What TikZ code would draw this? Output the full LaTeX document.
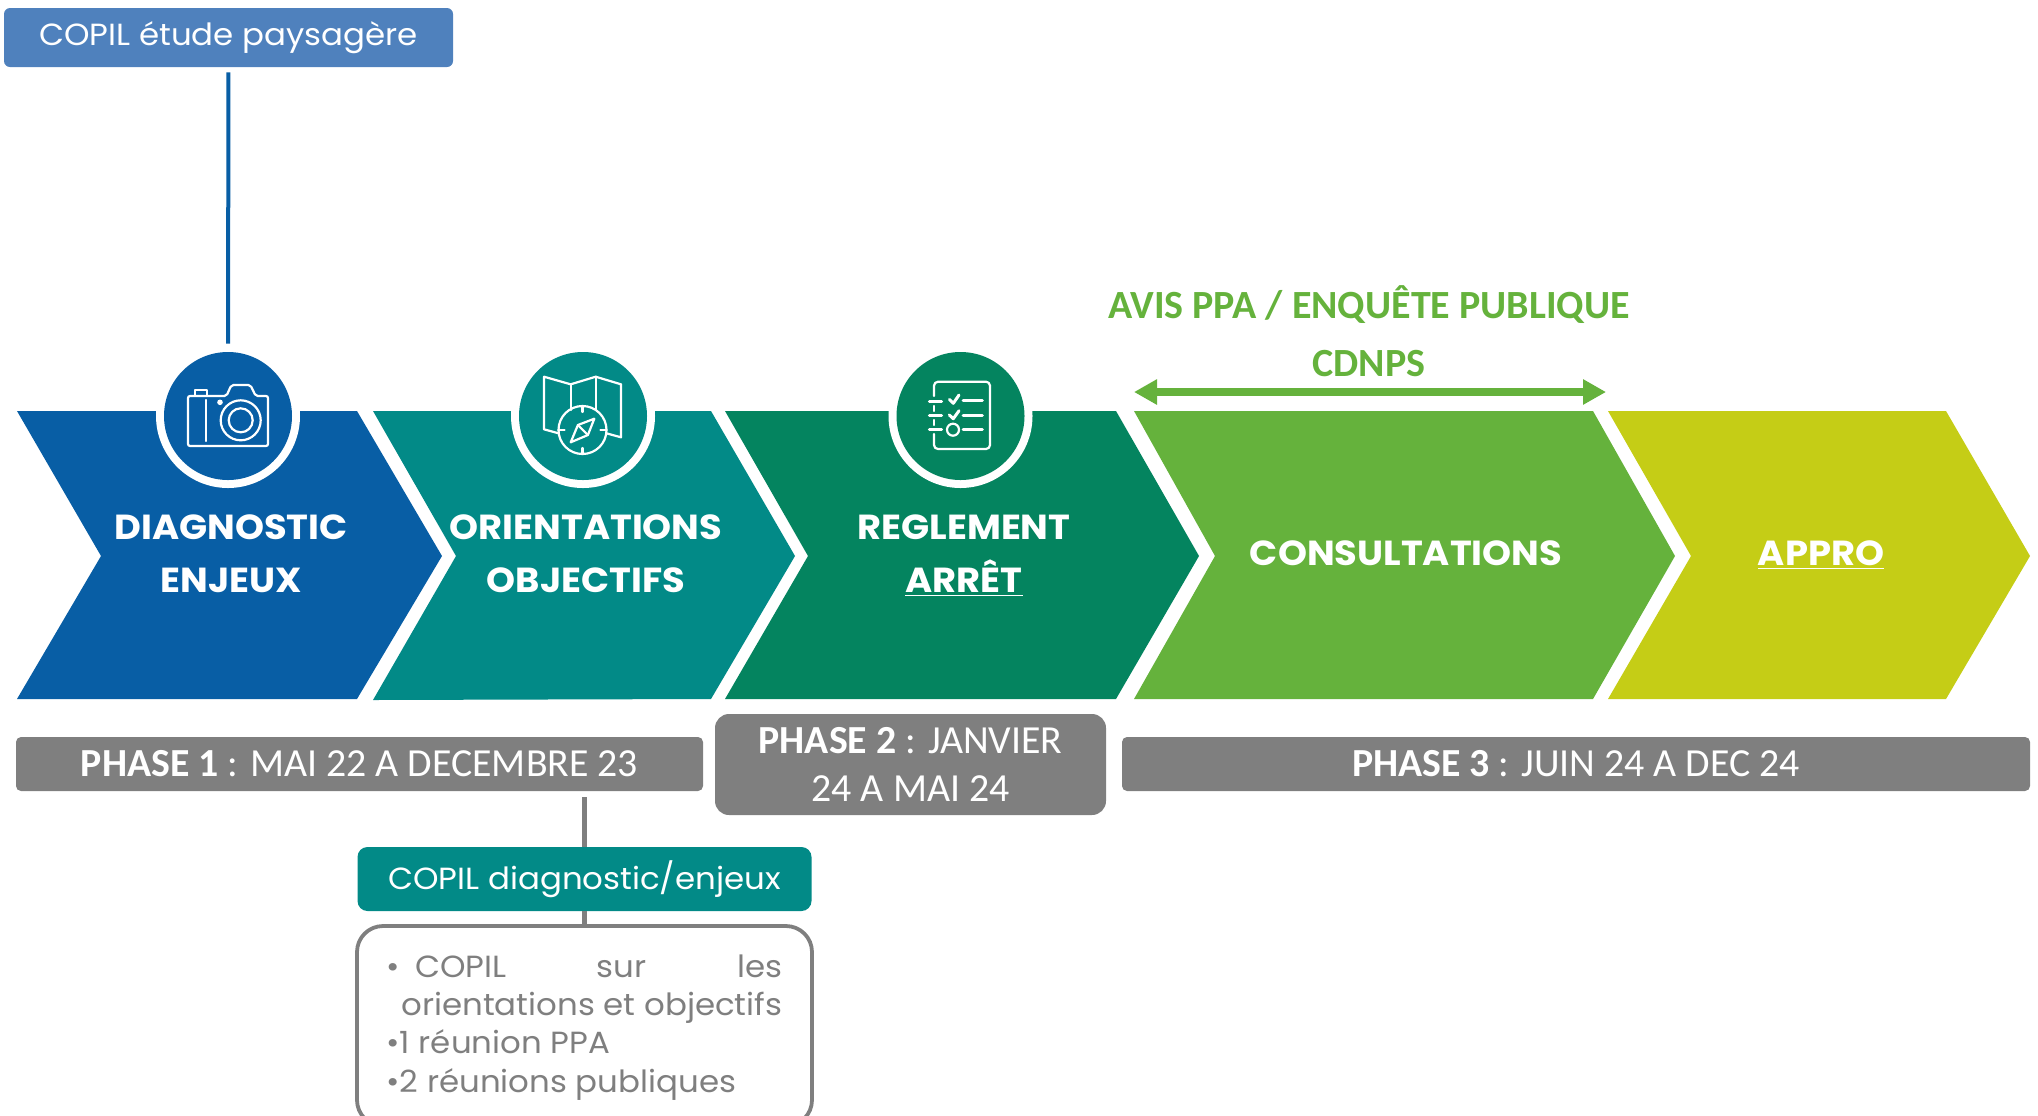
\documentclass[tikz,border=0pt]{standalone}
\usepackage{fontspec}
\setmainfont[FakeStretch=1.06]{Poppins}
\newfontfamily\calib{Carlito}
\usetikzlibrary{arrows.meta}
\definecolor{cblue}{HTML}{085EA5}
\definecolor{cteal}{HTML}{028A87}
\definecolor{cgreen}{HTML}{04845F}
\definecolor{clime}{HTML}{65B23C}
\definecolor{cyell}{HTML}{C5CD16}
\definecolor{cgray}{HTML}{7F7F7F}
\definecolor{cpale}{HTML}{4F81BD}
\newcommand{\lowr}[2]{\raisebox{-#1}{#2}}
\tikzset{
  x=0.5pt,y=-0.5pt,
  lab/.style={text=white,font=\bfseries\fontsize{17.4}{20}\selectfont,inner sep=0pt,anchor=base,align=center},
  bar/.style={fill=cgray,text=white,inner sep=0pt,align=center,font=\calib\fontsize{19.9}{24}\selectfont},
  tag/.style={text=white,inner sep=0pt,align=center,font=\fontsize{15.3}{18}\selectfont},
  ring/.style={circle,fill=white,minimum size=72pt,inner sep=0pt},
  disc/.style={circle,minimum size=64pt,inner sep=0pt},
  icon/.style={draw=white,line width=1.1pt,line join=round,line cap=round},
  grayline/.style={draw=cgray,line width=2.2pt},
  green/.style={text=clime,inner sep=0pt,font=\calib\bfseries\fontsize{20}{22}\selectfont}
}
\begin{document}
\begin{tikzpicture}
\useasboundingbox (0,0) rectangle (2038,1115);
% chevrons
\fill[cblue]  (17,411) -- (357,411) -- (442,556) -- (357,699) -- (17,699) -- (101,556) -- cycle;
\fill[cteal]  (373,411) -- (711,411) -- (795,556) -- (711,699) -- (373,700) -- (456,556) -- cycle;
\fill[cgreen] (725,411) -- (1116,411) -- (1199,556) -- (1116,699) -- (725,699) -- (808,556) -- cycle;
\fill[clime]  (1134,411) -- (1593,411) -- (1675,556) -- (1593,699) -- (1134,699) -- (1215,556) -- cycle;
\fill[cyell]  (1608,411) -- (1946,411) -- (2030,556) -- (1946,699) -- (1608,699) -- (1691,556) -- cycle;
% rings and discs
\node[ring] (ra) at (228,416) {};
\node[ring] (rb) at (583,416) {};
\node[ring] (rc) at (960.5,416) {};
\node[disc,fill=cblue] (da) at (228,416) {};
\node[disc,fill=cteal] (db) at (583,416) {};
\node[disc,fill=cgreen] (dc) at (960.5,416) {};
% camera
\draw[icon,rounded corners=1pt] (188,396) -- (226.4,396) -- (231.4,385) -- (250.4,385) -- (255.7,396) -- (268,396) -- (268,446) -- (188,446) -- cycle;
\draw[icon] (195,395) -- (195,390) -- (207,390) -- (207,395);
\draw[icon] (205.7,400) -- (205.7,441);
\fill[white] (220,402.3) circle (1.4pt);
\draw[icon] (240.7,420.3) circle (10pt);
\draw[icon] (240.7,420.3) circle (6pt);
% map
\draw[icon] (558.6,433.3) -- (544,429.3) -- (544,376.7) -- (570.7,384.3) -- (595.7,376.7) -- (621,384.3) -- (621,437.3) -- (606.4,433.3);
\draw[icon] (570.7,384.3) -- (570.7,410);
\draw[icon] (595.7,376.7) -- (595.7,410);
\draw[icon] (582.5,430) circle (12pt);
\draw[icon] (582.5,406) -- (582.5,412);
\draw[icon] (582.5,448) -- (582.5,454);
\draw[icon] (558.5,430) -- (564.5,430);
\draw[icon] (600.5,430) -- (606.5,430);
\draw[icon] (594.3,418.7) -- (577.9,425) -- (570.7,442.3) -- (587.9,435) -- cycle;
\draw[icon] (577.9,425) -- (587.9,435);
% checklist
\draw[icon,rounded corners=2pt] (934,396) -- (934,381.7) -- (990,381.7) -- (990,449) -- (934,449) -- (934,434);
\draw[icon] (934,406) -- (934,411);
\draw[icon] (934,420) -- (934,425);
\draw[icon,line width=1.5pt] (929.3,401.7) -- (941.7,401.7);
\draw[icon,line width=1.5pt] (929.3,415.7) -- (941.7,415.7);
\draw[icon,line width=1.5pt] (929.3,429.3) -- (941.7,429.3);
\draw[icon,line width=1.5pt] (949.3,399.3) -- (953.3,403.3) -- (959,395);
\draw[icon,line width=1.5pt] (949.3,415) -- (953.3,418.7) -- (959,410.7);
\draw[icon] (953,429.7) circle (3pt);
\draw[icon,line width=1.5pt] (963,400) -- (982.3,400);
\draw[icon,line width=1.5pt] (963,415) -- (982.3,415);
\draw[icon,line width=1.5pt] (963,429.3) -- (982.3,429.3);
% chevron labels
\node[lab] (la) at (231,539.5) {DIAGNOSTIC};
\node[lab] (lb) at (231,592.5) {ENJEUX};
\node[lab] (lc) at (586,539.5) {ORIENTATIONS};
\node[lab] (ld) at (586,592.5) {OBJECTIFS};
\node[lab] (le) at (964,539.5) {REGLEMENT};
\node[lab] (lf) at (964,592.5) {\underline{ARRÊT}};
\node[lab] (lg) at (1406,565.5) {CONSULTATIONS};
\node[lab] (lh) at (1821,565.5) {\underline{APPRO}};
% top box
\node[fill=cpale,rounded corners=3pt,minimum width=224.5pt,minimum height=29.5pt,tag] (copilp) at (228.5,37.5) {\lowr{1.2pt}{COPIL étude paysagère}};
\draw[draw=cblue,line width=2pt,shorten <=2.5pt] (copilp.south) -- (ra.north);
% green
\node[green] (av) at (1369,305) {AVIS PPA / ENQUÊTE PUBLIQUE};
\node[green] (cd) at (1369,364) {CDNPS};
\coordinate (arl) at (1134,392);
\coordinate (arr) at (1606,392);
\draw[draw=clime,line width=4pt,{Triangle[length=11.5pt,width=12pt]}-{Triangle[length=11.5pt,width=12pt]}] (arl) -- (arr);
% phase bars
\node[bar,rounded corners=2.5pt,minimum width=343.5pt,minimum height=27pt] (pa) at (359.5,764) {\lowr{0.6pt}{\textbf{PHASE 1} : MAI 22 A DECEMBRE 23}};
\node[bar,rounded corners=7pt,minimum width=195.5pt,minimum height=50.5pt] (pb) at (910.5,764.5) {\lowr{0.6pt}{\textbf{PHASE 2} : JANVIER}\\\lowr{0.6pt}{24 A MAI 24}};
\node[bar,rounded corners=2.5pt,minimum width=454pt,minimum height=27pt] (pc) at (1576,764) {\lowr{0.6pt}{\textbf{PHASE 3} : JUIN 24 A DEC 24}};
% lower
\node[fill=cteal,rounded corners=5pt,minimum width=227pt,minimum height=32pt,tag] (copild) at (584.5,879) {\lowr{0.6pt}{COPIL diagnostic/enjeux}};
\node[draw=cgray,line width=1.9pt,rounded corners=13pt,minimum width=227.5pt,minimum height=100pt,inner sep=0pt] (list) at (584.5,1026) {};
\draw[grayline,shorten <=3pt] (pa.south -| copild.north) -- (copild.north);
\draw[grayline] (copild.south) -- (list.north);
\node[anchor=north west,inner sep=0pt,text=cgray,align=left,font=\fontsize{15.3}{19.2}\selectfont] (ltxt) at (386,954)
 {\hbox to 198pt{•\,\,\,COPIL\hfill sur\hfill les}\\\hspace*{7.5pt}orientations et objectifs\\•1 réunion PPA\\•2 réunions publiques};
\end{tikzpicture}
\end{document}
